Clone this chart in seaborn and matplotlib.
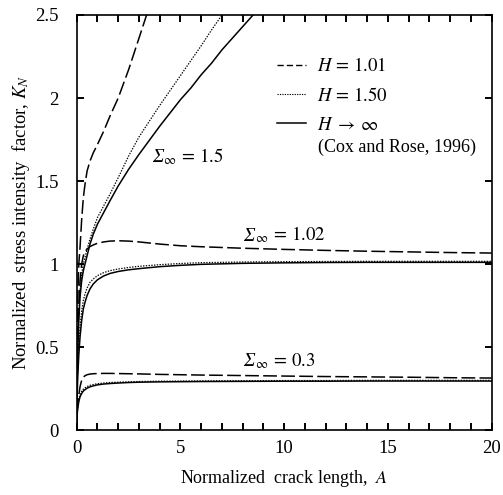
import numpy as np
import pandas as pd
import matplotlib
matplotlib.use("Agg")
import matplotlib.pyplot as plt
from matplotlib.lines import Line2D
from matplotlib.ticker import MultipleLocator
from matplotlib.offsetbox import TextArea, HPacker, AnnotationBbox
import seaborn as sns

# Normalized crack length grids
A_low = [0, 0.02, 0.05, 0.1, 0.16, 0.24, 0.32, 0.4, 0.5, 0.64, 0.8, 1.0, 1.3, 1.6,
         2.0, 2.5, 3.0, 4.0, 5.0, 6.0, 8.0, 10, 12, 14, 16, 18, 20]
A_high = [0, 0.02, 0.05, 0.1, 0.16, 0.24, 0.32, 0.4, 0.5, 0.64, 0.8, 1.0, 1.3, 1.6,
          2.0, 2.5, 3.0, 3.5, 4.0, 4.5, 5.0, 5.5, 6.0, 6.5, 7.0, 7.5, 8.0, 8.5, 9.0]

# Sigma_inf = 0.3
K03_H101 = [0, 0.11, 0.16, 0.21, 0.26, 0.30, 0.318, 0.327, 0.333, 0.337, 0.339, 0.34,
            0.341, 0.341, 0.34, 0.339, 0.338, 0.335, 0.333, 0.331, 0.328, 0.325, 0.322,
            0.32, 0.318, 0.315, 0.313]
K03_H150 = [0, 0.10, 0.145, 0.185, 0.213, 0.233, 0.246, 0.254, 0.262, 0.269, 0.274,
            0.279, 0.283, 0.286, 0.288, 0.29, 0.292, 0.294, 0.295, 0.296, 0.297, 0.298,
            0.298, 0.299, 0.299, 0.299, 0.299]
K03_Hinf = [0, 0.09, 0.13, 0.17, 0.20, 0.22, 0.235, 0.243, 0.252, 0.26, 0.266, 0.272,
            0.277, 0.28, 0.283, 0.286, 0.288, 0.29, 0.291, 0.292, 0.293, 0.294, 0.294,
            0.295, 0.295, 0.295, 0.295]

# Sigma_inf = 1.02
K102_H101 = [0, 0.35, 0.55, 0.75, 0.9, 1.0, 1.05, 1.075, 1.09, 1.105, 1.115, 1.125,
             1.133, 1.138, 1.14, 1.138, 1.133, 1.12, 1.11, 1.104, 1.095, 1.088, 1.082,
             1.077, 1.073, 1.069, 1.066]
K102_H150 = [0, 0.23, 0.37, 0.51, 0.62, 0.72, 0.78, 0.82, 0.855, 0.89, 0.91, 0.93,
             0.948, 0.96, 0.97, 0.979, 0.986, 0.996, 1.003, 1.008, 1.012, 1.014, 1.015,
             1.016, 1.016, 1.016, 1.016]
K102_Hinf = [0, 0.2, 0.32, 0.45, 0.56, 0.66, 0.73, 0.77, 0.81, 0.85, 0.88, 0.905,
             0.928, 0.943, 0.955, 0.965, 0.972, 0.984, 0.992, 0.998, 1.004, 1.007, 1.009,
             1.01, 1.01, 1.01, 1.01]

# Sigma_inf = 1.5
A15_H101 = A_high[:18]
K15_H101 = [0, 0.5, 0.8, 1.0, 1.1, 1.27, 1.4, 1.48, 1.56, 1.62, 1.67, 1.72, 1.8, 1.89,
            2.0, 2.17, 2.36, 2.55]
K15_H150 = [0, 0.33, 0.52, 0.7, 0.84, 0.94, 1.0, 1.04, 1.09, 1.15, 1.21, 1.28, 1.35,
            1.42, 1.52, 1.65, 1.765, 1.86, 1.955, 2.045, 2.135, 2.225, 2.315, 2.41, 2.5,
            2.59, 2.68, 2.77, 2.86]
K15_Hinf = [0, 0.3, 0.48, 0.66, 0.8, 0.9, 0.96, 1.0, 1.05, 1.12, 1.18, 1.24, 1.31, 1.38,
            1.47, 1.57, 1.66, 1.745, 1.83, 1.91, 1.99, 2.06, 2.14, 2.21, 2.29, 2.36, 2.43,
            2.50, 2.57]

legend_labels = [r"$H\, =\, 1.01$", r"$H\, =\, 1.50$", r"$H\;\rightarrow\;\infty$"]
citation = "(Cox and Rose, 1996)"
sigma_values = ["1.5", "1.02", "0.3"]
sigma_pos = [(3.62, 1.646), (8.03, 1.175), (8.03, 0.415)]
yticks = [0, 0.5, 1, 1.5, 2, 2.5]
ytick_labels = ["0", "0.5", "1", "1.5", "2", "2.5"]
xticks = [0, 5, 10, 15, 20]

plt.rcParams.update({
    "font.family": ["Liberation Serif", "DejaVu Serif"],
    "mathtext.fontset": "stix",
    "axes.edgecolor": "black",
    "xtick.direction": "in",
    "ytick.direction": "in",
})

fig = plt.figure(figsize=(5.03, 4.95), dpi=100)
ax = fig.add_axes([0.1525, 0.1313, 0.825, 0.8384])

DASH = (9.0, 2.8)
DOT = (1.1, 1.1)
styles = {"H101": DASH, "H150": DOT, "Hinf": None}

curves = [
    (A_low, K03_H101, "H101"), (A_low, K03_H150, "H150"), (A_low, K03_Hinf, "Hinf"),
    (A_low, K102_H101, "H101"), (A_low, K102_H150, "H150"), (A_low, K102_Hinf, "Hinf"),
    (A15_H101, K15_H101, "H101"), (A_high, K15_H150, "H150"), (A_high, K15_Hinf, "Hinf"),
]
for xs, ys, key in curves:
    df = pd.DataFrame({"A": xs, "K": ys})
    lw = 0.9 if key == "H150" else 1.1
    sns.lineplot(data=df, x="A", y="K", ax=ax, color="black", lw=lw,
                 estimator=None, sort=False)
    ln = ax.lines[-1]
    if styles[key] is not None:
        ln.set_dashes(styles[key])

ax.set_xlim(0, 20)
ax.set_ylim(0, 2.5)
ax.set_xticks(xticks)
ax.set_xticklabels([str(v) for v in xticks])
ax.xaxis.set_minor_locator(MultipleLocator(1))
ax.set_yticks(yticks)
ax.set_yticklabels(ytick_labels)
ax.tick_params(axis="x", which="both", direction="in", bottom=True, top=True,
               length=5, width=1.4, color="black", labelsize=13.5, pad=7)
ax.tick_params(axis="y", which="both", direction="in", left=True, right=True,
               length=5, width=1.4, color="black", labelsize=13.5, pad=13)

for sp in ax.spines.values():
    sp.set_linewidth(1.2)

ax.set_xlabel("Normalized  crack length,  $A$", fontsize=13, labelpad=8)
ax.set_ylabel("Normalized  stress intensity  factor, $K_N$", fontsize=13.5, labelpad=2)

# Load-level labels: italic capital sigma followed by the subscript and value
for val, (x, y) in zip(sigma_values, sigma_pos):
    sig = TextArea("Σ", textprops=dict(fontsize=14, fontstyle="italic",
                                        family="Liberation Serif"))
    rest = TextArea(r"$_{\infty}\, =\, %s$" % val, textprops=dict(fontsize=13.5))
    box = HPacker(children=[sig, rest], align="baseline", pad=0, sep=0)
    ab = AnnotationBbox(box, (x, y), xycoords="data", box_alignment=(0, 0.5),
                        frameon=False, pad=0)
    ax.add_artist(ab)

handles = [
    Line2D([], [], color="black", lw=1.0, dashes=(4.5, 2.2)),
    Line2D([], [], color="black", lw=0.8, dashes=(1.1, 1.1)),
    Line2D([], [], color="black", lw=1.1),
]
ax.legend(handles, legend_labels, loc="upper left", bbox_to_anchor=(0.483, 0.898),
          frameon=False, fontsize=13.5, handlelength=1.55, handletextpad=0.6,
          labelspacing=0.62, borderpad=0, borderaxespad=0)
ax.text(0.582, 0.682, citation, transform=ax.transAxes, fontsize=13,
        ha="left", va="center")

fig.savefig("out.png", dpi=100)
